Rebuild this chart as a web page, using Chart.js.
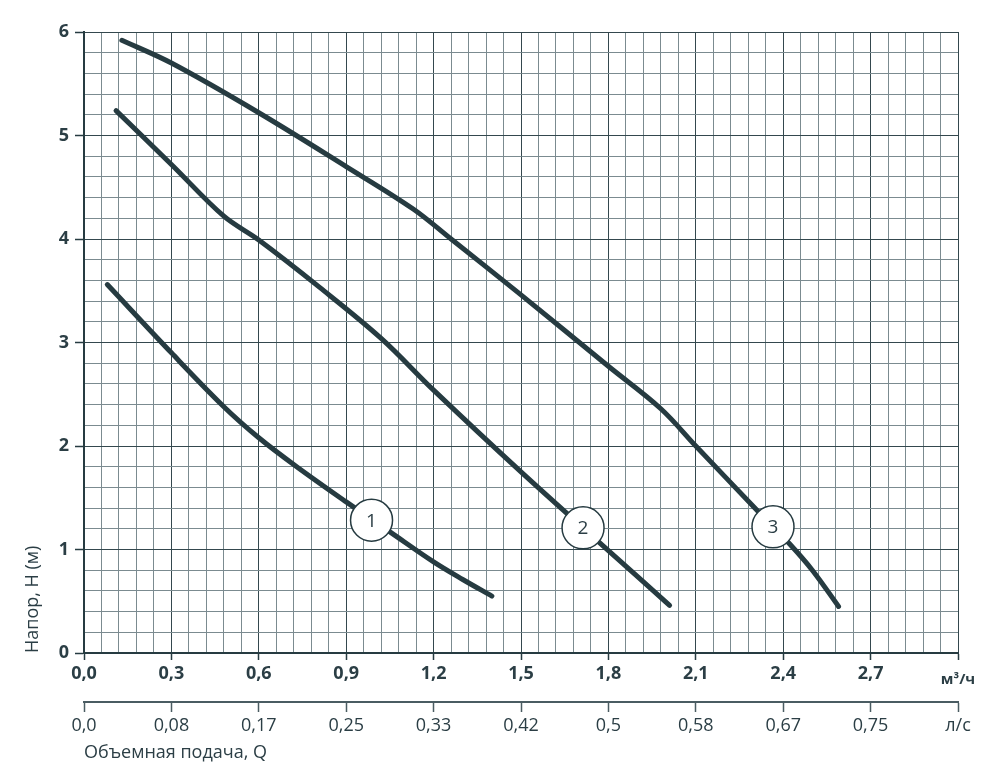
<!DOCTYPE html>
<html lang="ru">
<head>
<meta charset="UTF-8">
<title>Напорная характеристика</title>
<script src="https://cdn.jsdelivr.net/npm/chart.js"></script>
<style>
    body { margin: 0; background: #fff; }
    #wrap { width: 1000px; height: 782px; }
</style>
</head>
<body>
<div id="wrap"><canvas id="chart" width="1000" height="782"></canvas></div>
<script>
    // Кривые напора: подача Q (м3/ч) и напор H (м)
    const q1 = [0.08, 0.30, 0.48, 0.60, 0.73, 0.90, 1.05, 1.20, 1.30, 1.40];
    const h1 = [3.56, 2.90, 2.38, 2.08, 1.80, 1.46, 1.17, 0.88, 0.71, 0.55];

    const q2 = [0.11, 0.30, 0.48, 0.60, 0.81, 1.02, 1.20, 1.50, 1.80, 2.01];
    const h2 = [5.24, 4.72, 4.22, 3.99, 3.53, 3.04, 2.54, 1.75, 0.99, 0.46];

    const q3 = [0.13, 0.30, 0.60, 0.90, 1.13, 1.26, 1.50, 1.80, 1.98, 2.10, 2.31, 2.42, 2.50, 2.59];
    const h3 = [5.92, 5.70, 5.22, 4.70, 4.29, 4.00, 3.46, 2.77, 2.36, 2.00, 1.38, 1.06, 0.80, 0.45];

    // Подписи осей
    const xTickLabels = ['0,0', '0,3', '0,6', '0,9', '1,2', '1,5', '1,8', '2,1', '2,4', '2,7', 'м³/ч'];
    const lsTickLabels = ['0,0', '0,08', '0,17', '0,25', '0,33', '0,42', '0,5', '0,58', '0,67', '0,75', 'л/с'];
    const yTickLabels = ['0', '1', '2', '3', '4', '5', '6'];

    // Номера кривых в кружках
    const markNames = ['1', '2', '3'];
    const markQ = [0.987, 1.713, 2.365];
    const markH = [1.283, 1.209, 1.219];

    const TEXT = '#2b3e45';
    const LINE = '#263b41';
    const MAJOR = '#34484e';
    const MINOR = '#7b8b90';
    const FONT = "'Open Sans', sans-serif";

    Chart.defaults.font.family = FONT;
    Chart.defaults.color = TEXT;

    // сетка: по Q шаг 0.06, по H шаг 0.2
    const xGrid = [];
    for (let i = 0; i <= 50; i++) xGrid.push(i * 0.06);
    const xMajor = [];
    for (let i = 0; i <= 10; i++) xMajor.push(i * 0.3);
    const yGrid = [];
    for (let i = 0; i <= 30; i++) yGrid.push(i * 0.2);

    const xIdx = v => Math.round(v / 0.06);
    const yIdx = v => Math.round(v / 0.2);

    function pts(q, h) {
        return q.map((v, i) => ({x: v, y: h[i]}));
    }

    function curve(q, h) {
        return {
            data: pts(q, h),
            borderColor: LINE,
            borderWidth: 5,
            borderCapStyle: 'round',
            borderJoinStyle: 'round',
            pointRadius: 0,
            tension: 0.35,
            fill: false,
            order: 2
        };
    }

    const markText = {
        id: 'markText',
        afterDatasetsDraw(chart) {
            const {ctx, scales} = chart;
            ctx.save();
            ctx.font = '19px ' + FONT;
            ctx.fillStyle = TEXT;
            ctx.textAlign = 'center';
            ctx.textBaseline = 'middle';
            markNames.forEach((n, i) => {
                ctx.fillText(n, scales.x.getPixelForValue(markQ[i]), scales.y.getPixelForValue(markH[i]) + 1);
            });
            ctx.restore();
        }
    };

    new Chart(document.getElementById('chart'), {
        type: 'line',
        data: {
            datasets: [
                {
                    data: pts(markQ, markH),
                    showLine: false,
                    pointRadius: 21,
                    pointHoverRadius: 21,
                    pointBackgroundColor: '#ffffff',
                    pointBorderColor: LINE,
                    pointBorderWidth: 1.5,
                    order: 1
                },
                curve(q1, h1),
                curve(q2, h2),
                curve(q3, h3)
            ]
        },
        options: {
            responsive: false,
            animation: false,
            layout: {padding: {left: 0, right: 42, top: 32, bottom: 0}},
            plugins: {
                legend: {display: false},
                tooltip: {enabled: false}
            },
            scales: {
                x: {
                    type: 'linear',
                    position: 'bottom',
                    min: 0,
                    max: 3,
                    weight: 0,
                    afterBuildTicks: s => { s.ticks = xGrid.map(v => ({value: v})); },
                    afterFit: s => { s.height = 49; },
                    grid: {
                        color: c => xIdx(c.tick.value) % 5 === 0 ? MAJOR : MINOR,
                        lineWidth: 1,
                        tickLength: 7,
                        tickColor: c => xIdx(c.tick.value) % 5 === 0 ? LINE : 'rgba(0,0,0,0)',
                        tickWidth: 1.5
                    },
                    border: {color: LINE, width: 2},
                    ticks: {
                        autoSkip: false,
                        maxRotation: 0,
                        padding: 3,
                        color: TEXT,
                        font: c => {
                            if (c.tick && xIdx(c.tick.value) === 50) {
                                return {size: 15, weight: 'bold', lineHeight: 2.2};
                            }
                            return {size: 18, weight: 'bold', lineHeight: 1.2};
                        },
                        callback: v => {
                            const i = xIdx(v);
                            return i % 5 === 0 ? xTickLabels[i / 5] : '';
                        }
                    }
                },
                x2: {
                    type: 'linear',
                    position: 'bottom',
                    min: 0,
                    max: 3,
                    weight: 1,
                    afterBuildTicks: s => { s.ticks = xMajor.map(v => ({value: v})); },
                    afterFit: s => { s.height = 80; },
                    grid: {
                        drawOnChartArea: false,
                        tickLength: 10,
                        tickColor: '#4a5c62',
                        tickWidth: 1.5
                    },
                    border: {color: '#4a5c62', width: 2},
                    ticks: {
                        autoSkip: false,
                        maxRotation: 0,
                        padding: 3,
                        color: TEXT,
                        font: {size: 18},
                        callback: v => lsTickLabels[Math.round(v / 0.3)]
                    },
                    title: {
                        display: true,
                        text: 'Объемная подача, Q',
                        align: 'start',
                        color: TEXT,
                        font: {size: 18},
                        padding: {top: 0, bottom: 18}
                    }
                },
                y: {
                    type: 'linear',
                    position: 'left',
                    min: 0,
                    max: 6,
                    afterBuildTicks: s => { s.ticks = yGrid.map(v => ({value: v})); },
                    afterFit: s => { s.width = 84; },
                    grid: {
                        color: c => yIdx(c.tick.value) % 5 === 0 ? MAJOR : MINOR,
                        lineWidth: 1,
                        tickLength: 9,
                        tickColor: c => yIdx(c.tick.value) % 5 === 0 ? LINE : 'rgba(0,0,0,0)',
                        tickWidth: 1.5
                    },
                    border: {color: LINE, width: 2},
                    ticks: {
                        autoSkip: false,
                        padding: 6,
                        color: TEXT,
                        font: {size: 18, weight: 'bold'},
                        callback: v => {
                            const i = yIdx(v);
                            return i % 5 === 0 ? yTickLabels[i / 5] : '';
                        }
                    },
                    title: {
                        display: true,
                        text: 'Напор, Н (м)',
                        align: 'start',
                        color: TEXT,
                        font: {size: 18},
                        padding: {top: 22, bottom: 0}
                    }
                }
            }
        },
        plugins: [markText]
    });
</script>
</body>
</html>
